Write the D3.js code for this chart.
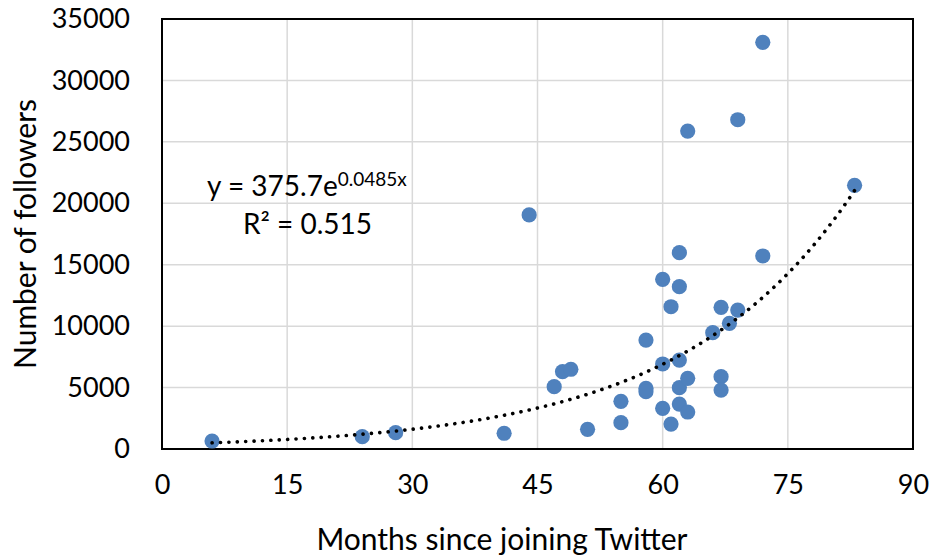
<!DOCTYPE html>
<html>
<head>
<meta charset="utf-8">
<script src="https://cdn.jsdelivr.net/npm/d3@7"></script>
<style>
  body { margin: 0; background: #fff; }
  text { font-family: Lato, "Open Sans", sans-serif; fill: #000; }
</style>
</head>
<body>
<svg id="chart" width="933" height="558"></svg>
<script>
// months since joining, followers
var months = [6, 24, 28, 41, 44, 47, 48, 49, 51, 55, 55, 58, 58, 58,
  60, 60, 60, 61, 61, 62, 62, 62, 62, 62, 63, 63, 63,
  66, 67, 67, 67, 68, 69, 69, 72, 72, 83];
var followers = [650, 1000, 1330, 1280, 19050, 5070, 6290, 6490, 1600, 3880, 2140, 8870, 4940, 4660,
  13810, 6920, 3310, 11580, 2030, 15980, 13210, 7240, 4990, 3660, 25880, 5750, 3010,
  9470, 11530, 5890, 4800, 10230, 26800, 11310, 33100, 15710, 21460];

var xTicks = [0, 15, 30, 45, 60, 75, 90];
var yTicks = [0, 5000, 10000, 15000, 20000, 25000, 30000, 35000];

// exponential trendline shown on the chart
var trendA = 375.7, trendB = 0.0485;
var trendFrom = 6, trendTo = 83;

var svg = d3.select("#chart");
var pLeft = 162, pRight = 913, pTop = 19, pBottom = 449;

var x = d3.scaleLinear().domain([0, 90]).range([pLeft, pRight]);
var y = d3.scaleLinear().domain([0, 35000]).range([pBottom, pTop]);

// grid
svg.append("g").selectAll("line").data(xTicks).enter().append("line")
  .attr("x1", function(d) { return x(d); }).attr("x2", function(d) { return x(d); })
  .attr("y1", pTop).attr("y2", pBottom)
  .attr("stroke", "#d9d9d9").attr("stroke-width", 1.5);
svg.append("g").selectAll("line").data(yTicks).enter().append("line")
  .attr("x1", pLeft).attr("x2", pRight)
  .attr("y1", function(d) { return y(d); }).attr("y2", function(d) { return y(d); })
  .attr("stroke", "#d9d9d9").attr("stroke-width", 1.5);

// plot border
svg.append("rect").attr("x", pLeft).attr("y", pTop)
  .attr("width", pRight - pLeft).attr("height", pBottom - pTop)
  .attr("fill", "none").attr("stroke", "#000").attr("stroke-width", 2);

// axes (labels only)
var xAxis = svg.append("g").attr("transform", "translate(0," + pBottom + ")")
  .call(d3.axisBottom(x).tickValues(xTicks).tickSize(0).tickPadding(26));
var yAxis = svg.append("g").attr("transform", "translate(" + pLeft + ",0)")
  .call(d3.axisLeft(y).tickValues(yTicks).tickSize(0).tickPadding(32).tickFormat(d3.format("d")));
[xAxis, yAxis].forEach(function(a) {
  a.select(".domain").remove();
  a.selectAll("text").attr("font-size", 27).attr("font-family", "Lato, sans-serif").attr("fill", "#000");
});

// points
svg.append("g").selectAll("circle").data(months).enter().append("circle")
  .attr("cx", function(d) { return x(d); })
  .attr("cy", function(d, i) { return y(followers[i]); })
  .attr("r", 7.6)
  .attr("fill", "#4f81bd");

// trendline
var tx = d3.range(trendFrom, trendTo + 0.01, 0.5);
var line = d3.line()
  .x(function(d) { return x(d); })
  .y(function(d) { return y(trendA * Math.exp(trendB * d)); });
svg.append("path").datum(tx).attr("d", line)
  .attr("fill", "none").attr("stroke", "#000")
  .attr("stroke-width", 3.6).attr("stroke-linecap", "round")
  .attr("stroke-dasharray", "0.1 8.3");

// equation
var eq = svg.append("text").attr("x", 207).attr("y", 196).attr("font-size", 28);
eq.append("tspan").text("y = 375.7e");
eq.append("tspan").attr("font-size", 19).attr("dy", -10).text("0.0485x");
svg.append("text").attr("x", 243).attr("y", 234).attr("font-size", 28).text("R² = 0.515");

// axis titles
svg.append("text").attr("x", 502).attr("y", 550)
  .attr("text-anchor", "middle").attr("font-size", 30)
  .text("Months since joining Twitter");
svg.append("text").attr("transform", "translate(36,234) rotate(-90)")
  .attr("text-anchor", "middle").attr("font-size", 30)
  .text("Number of followers");
</script>
</body>
</html>
